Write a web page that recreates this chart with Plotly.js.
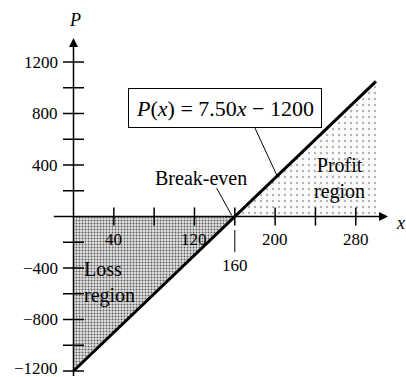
<!DOCTYPE html>
<html>
<head>
<meta charset="utf-8">
<script src="https://cdn.plot.ly/plotly-3.0.1.min.js"></script>
<style>
  html, body { margin: 0; padding: 0; background: #fff; }
  #chart { width: 406px; height: 377px; }
</style>
</head>
<body>
<div id="chart"></div>
<script>
// Profit model P(x) = 7.50x - 1200
const slope = 7.50;
const fixedCost = 1200;
const breakEven = 160;
const xEnds = [0, 300];

// Tick positions and labels
const xTicks = [40, 80, 120, 160, 200, 240, 280];
const xTickLabels = [40, 120, 200, 280];
const yTicks = [-1200, -1000, -800, -600, -400, -200, 200, 400, 600, 800, 1000, 1200];
const yTickLabels = [-1200, -800, -400, 400, 800, 1200];

const P = x => slope * x - fixedCost;
const pEnds = xEnds.map(P);

const serif = 'Liberation Serif, Times New Roman, serif';

const traces = [
  // loss region (below the axis, left of break-even)
  {
    x: [0, breakEven, 0, 0], y: [0, 0, P(0), 0],
    mode: 'lines', fill: 'toself', line: {width: 0},
    fillcolor: '#d0d0d0',
    fillpattern: {shape: '.', bgcolor: '#e4e4e4', fgcolor: '#5a5a5a', size: 3, solidity: 0.35},
    hoverinfo: 'skip'
  },
  // profit region (above the axis, right of break-even)
  {
    x: [breakEven, xEnds[1], xEnds[1], breakEven], y: [0, 0, pEnds[1], 0],
    mode: 'lines', fill: 'toself', line: {width: 0},
    fillcolor: '#f6f6f6',
    fillpattern: {shape: '.', bgcolor: '#fbfbfb', fgcolor: '#b4b4b4', size: 6, solidity: 0.12},
    hoverinfo: 'skip'
  },
  // profit line
  {
    x: xEnds, y: pEnds, mode: 'lines',
    line: {color: '#000', width: 3}, hoverinfo: 'skip'
  },
  // x tick marks
  {
    x: xTicks, y: xTicks.map(() => 0), mode: 'markers',
    marker: {symbol: 'line-ns', size: 13, line: {color: '#000', width: 1.5}},
    hoverinfo: 'skip'
  },
  // y tick marks
  {
    x: yTicks.map(() => 0), y: yTicks, mode: 'markers',
    marker: {symbol: 'line-ew', size: 15, line: {color: '#000', width: 1.5}},
    hoverinfo: 'skip'
  },
  // leader from the 160 label up to the axis
  {
    x: [breakEven, breakEven], y: [-105, -276], mode: 'lines',
    line: {color: '#000', width: 1}, hoverinfo: 'skip'
  },
  // leader from "Break-even" to the crossing point
  {
    x: [142, 157], y: [220, 8], mode: 'lines',
    line: {color: '#000', width: 1}, hoverinfo: 'skip'
  },
  // leader from the equation box to the line
  {
    x: [180, 202], y: [687, 315], mode: 'lines',
    line: {color: '#000', width: 1}, hoverinfo: 'skip'
  }
];

const annotations = [];

// axes drawn as arrows
annotations.push({
  x: 312, y: 0, ax: -21, ay: 0, xref: 'x', yref: 'y', axref: 'x', ayref: 'y',
  text: '', showarrow: true, arrowhead: 2, arrowsize: 1.2, arrowwidth: 1.5, arrowcolor: '#000'
});
annotations.push({
  x: 0, y: 1386, ax: 0, ay: -1250, xref: 'x', yref: 'y', axref: 'x', ayref: 'y',
  text: '', showarrow: true, arrowhead: 2, arrowsize: 1.2, arrowwidth: 1.5, arrowcolor: '#000'
});

// tick labels
xTickLabels.forEach(v => annotations.push({
  x: v, y: -180, xref: 'x', yref: 'y', text: String(v), showarrow: false,
  font: {family: serif, size: 17, color: '#000'}
}));
annotations.push({
  x: breakEven, y: -377, xref: 'x', yref: 'y', text: String(breakEven), showarrow: false,
  font: {family: serif, size: 17, color: '#000'}
});
yTickLabels.forEach(v => annotations.push({
  x: -13, y: v, xref: 'x', yref: 'y', xanchor: 'right',
  yshift: v === -1200 ? 3 : 0,
  text: (v < 0 ? '\u2212' : '') + Math.abs(v), showarrow: false,
  font: {family: serif, size: 17, color: '#000'}
}));

// axis names
annotations.push({
  x: 1.5, y: 1526, xref: 'x', yref: 'y', text: '<i>P</i>', showarrow: false,
  font: {family: serif, size: 18, color: '#000'}
});
annotations.push({
  x: 324, y: -50, xref: 'x', yref: 'y', text: '<i>x</i>', showarrow: false,
  font: {family: serif, size: 18, color: '#000'}
});

// region and point labels
annotations.push({
  x: 126.5, y: 299, xref: 'x', yref: 'y', text: 'Break-even', showarrow: false,
  font: {family: serif, size: 20, color: '#000'}
});
annotations.push({
  x: 264, y: 299, xref: 'x', yref: 'y', text: 'Profit<br>region', showarrow: false,
  font: {family: serif, size: 20, color: '#000'}
});
annotations.push({
  x: 8.4, y: -509, xref: 'x', yref: 'y', xanchor: 'left', align: 'left',
  text: 'Loss<br>region', showarrow: false,
  font: {family: serif, size: 20, color: '#000'}
});

// equation box
annotations.push({
  x: 149.8, y: 846, xref: 'x', yref: 'y',
  text: '<i>P</i>(<i>x</i>) = 7.50<i>x</i> \u2212 1200', showarrow: false,
  width: 186, height: 32, bgcolor: '#fff', bordercolor: '#000', borderwidth: 1, borderpad: 3,
  font: {family: serif, size: 22, color: '#000'}
});

const layout = {
  width: 406, height: 377, autosize: false,
  margin: {l: 0, r: 0, t: 0, b: 0},
  paper_bgcolor: '#fff', plot_bgcolor: '#fff',
  showlegend: false,
  xaxis: {range: [-72.9, 329.8], visible: false, fixedrange: true},
  yaxis: {range: [-1246.6, 1681.6], visible: false, fixedrange: true},
  annotations: annotations
};

Plotly.newPlot('chart', traces, layout, {staticPlot: true, displayModeBar: false});
</script>
</body>
</html>
